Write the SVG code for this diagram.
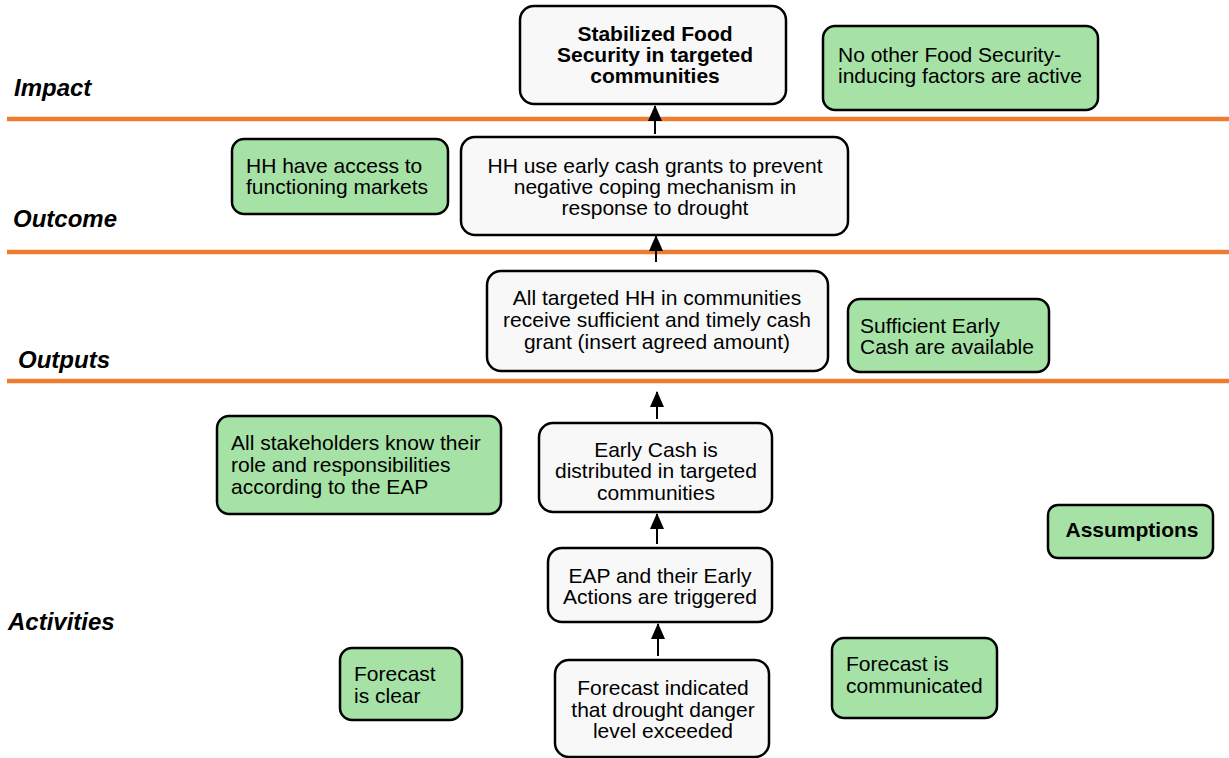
<svg xmlns="http://www.w3.org/2000/svg" width="1229" height="758" viewBox="0 0 1229 758">
<defs>
<style>
.w{fill:#f8f8f8;stroke:#000;stroke-width:2.5}
.g{fill:#a6e1a6;stroke:#000;stroke-width:2.5}
.t{font-family:"Liberation Sans",Arial,sans-serif;font-size:21px;fill:#000}
.c{text-anchor:middle}
.b{font-weight:bold}
.lab{font-family:"Liberation Sans",Arial,sans-serif;font-size:24px;font-weight:bold;font-style:italic;fill:#000}
.band{stroke:#ed7d31;stroke-width:4.5}
.con{stroke:#000;stroke-width:2;fill:none;marker-end:url(#ah)}
</style>
<marker id="ah" markerWidth="16" markerHeight="14" refX="15" refY="7" orient="auto" markerUnits="userSpaceOnUse">
<path d="M0,0 L16,7 L0,14 z" fill="#000"/>
</marker>
</defs>
<rect width="1229" height="758" fill="#fff"/>
<g id="bands">
<line class="band" x1="7" y1="119" x2="1229" y2="119"/>
<line class="band" x1="7" y1="252" x2="1229" y2="252"/>
<line class="band" x1="7" y1="381" x2="1229" y2="381"/>
</g>
<g id="labels">
<text class="lab" x="14" y="96">Impact</text>
<text class="lab" x="13" y="227">Outcome</text>
<text class="lab" x="18" y="368">Outputs</text>
<text class="lab" x="8" y="630">Activities</text>
</g>
<g id="connectors">
<line class="con" x1="655" y1="134" x2="655" y2="106"/>
<line class="con" x1="656" y1="262" x2="656" y2="236"/>
<line class="con" x1="657" y1="419" x2="657" y2="392"/>
<line class="con" x1="657" y1="544" x2="657" y2="514"/>
<line class="con" x1="658" y1="656" x2="658" y2="624"/>
</g>
<g id="n-impact">
<rect class="w" x="520" y="6" width="266" height="98" rx="14"/>
<text class="t c b" x="655" y="41">Stabilized Food</text>
<text class="t c b" x="655" y="62">Security in targeted</text>
<text class="t c b" x="655" y="83">communities</text>
</g>
<g id="a-other">
<rect class="g" x="823" y="26" width="275" height="84" rx="12"/>
<text class="t" x="838" y="62">No other Food Security-</text>
<text class="t" x="838" y="83">inducing factors are active</text>
</g>
<g id="n-outcome">
<rect class="w" x="461" y="137" width="387" height="98" rx="14"/>
<text class="t c" x="655" y="173">HH use early cash grants to prevent</text>
<text class="t c" x="655" y="194">negative coping mechanism in</text>
<text class="t c" x="655" y="215">response to drought</text>
</g>
<g id="a-markets">
<rect class="g" x="232" y="139" width="216" height="75" rx="12"/>
<text class="t" x="246" y="173">HH have access to</text>
<text class="t" x="246" y="194">functioning markets</text>
</g>
<g id="n-output">
<rect class="w" x="487" y="271" width="341" height="100" rx="14"/>
<text class="t c" x="657" y="305">All targeted HH in communities</text>
<text class="t c" x="657" y="327">receive sufficient and timely cash</text>
<text class="t c" x="657" y="349">grant (insert agreed amount)</text>
</g>
<g id="a-cash">
<rect class="g" x="848" y="299" width="201" height="73" rx="12"/>
<text class="t" x="860" y="333">Sufficient Early</text>
<text class="t" x="860" y="354">Cash are available</text>
</g>
<g id="n-distributed">
<rect class="w" x="539" y="423" width="233" height="89" rx="14"/>
<text class="t c" x="656" y="457">Early Cash is</text>
<text class="t c" x="656" y="478">distributed in targeted</text>
<text class="t c" x="656" y="500">communities</text>
</g>
<g id="a-stakeholders">
<rect class="g" x="217" y="416" width="284" height="98" rx="12"/>
<text class="t" x="231" y="450">All stakeholders know their</text>
<text class="t" x="231" y="472">role and responsibilities</text>
<text class="t" x="231" y="494">according to the EAP</text>
</g>
<g id="legend">
<rect class="g" x="1048" y="505" width="165" height="53" rx="10"/>
<text class="t c b" x="1132" y="537">Assumptions</text>
</g>
<g id="n-eap">
<rect class="w" x="548" y="548" width="224" height="74" rx="14"/>
<text class="t c" x="660" y="583">EAP and their Early</text>
<text class="t c" x="660" y="604">Actions are triggered</text>
</g>
<g id="n-forecast">
<rect class="w" x="555" y="660" width="214" height="97" rx="14"/>
<text class="t c" x="663" y="695">Forecast indicated</text>
<text class="t c" x="663" y="717">that drought danger</text>
<text class="t c" x="663" y="738">level exceeded</text>
</g>
<g id="a-clear">
<rect class="g" x="340" y="648" width="122" height="72" rx="12"/>
<text class="t" x="354" y="681">Forecast</text>
<text class="t" x="354" y="703">is clear</text>
</g>
<g id="a-communicated">
<rect class="g" x="832" y="638" width="165" height="80" rx="12"/>
<text class="t" x="846" y="671">Forecast is</text>
<text class="t" x="846" y="693">communicated</text>
</g>
</svg>
